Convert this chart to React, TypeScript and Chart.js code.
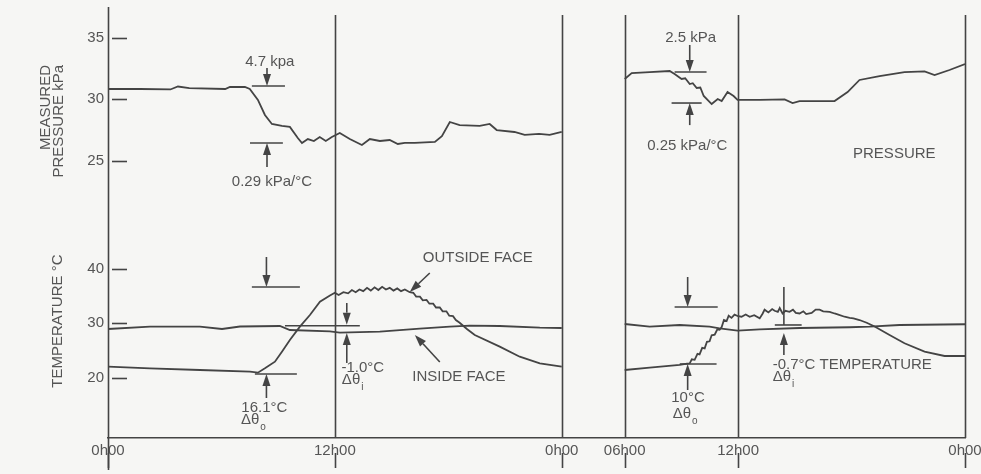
import React, { useEffect, useRef } from 'react';
import { Chart, registerables } from 'chart.js';

Chart.register(...registerables);

// ---- x layout: day 2 is shifted on the shared hour axis ----
const DAY2_OFFSET = 21.33;
const X_MAX = 24 + DAY2_OFFSET;

const xTickDays = [1, 1, 1, 2, 2, 2];
const xTickHours = [0, 12, 24, 6, 12, 24];
const xTickLabels = ['0h00', '12h00', '0h00', '06h00', '12h00', '0h00'];

const pressureTicks = [25, 30, 35];
const temperatureTicks = [20, 30, 40];

// ---- pressure (kPa) ----
const pressureDay1Hours = [0, 1.7, 3.3, 3.7, 4.3, 6.2, 6.45, 7.24, 7.5, 7.93, 8.3, 8.67, 9.2, 9.62, 10.04, 10.26, 10.57, 10.89, 11.2, 11.52, 11.84, 12.26, 12.79, 13.43, 13.85, 14.38, 14.9, 15.33, 15.7, 16.23, 17.29, 17.66, 18.08, 18.6, 19.66, 20.19, 20.56, 21.5, 22.04, 22.8, 23.36, 24];
const pressureDay1Kpa = [30.83, 30.83, 30.79, 31.03, 30.9, 30.83, 30.99, 30.99, 30.83, 29.94, 28.72, 27.99, 27.83, 27.75, 26.85, 26.45, 26.77, 26.61, 26.93, 26.61, 26.93, 27.26, 26.77, 26.29, 26.77, 26.61, 26.69, 26.37, 26.45, 26.45, 26.53, 27.0, 28.15, 27.9, 27.83, 27.99, 27.5, 27.34, 27.1, 27.18, 27.1, 27.34];

const pressureDay2Hours = [6, 6.37, 7.32, 8.38, 8.64, 9.01, 9.2, 9.44, 9.6, 9.81, 10.0, 10.18, 10.6, 10.92, 11.13, 11.44, 11.76, 11.97, 13.14, 14.46, 14.88, 15.25, 17.1, 17.79, 18.42, 19.48, 20.8, 21.86, 22.39, 23.18, 24];
const pressureDay2Kpa = [31.64, 32.12, 32.2, 32.29, 32.04, 31.64, 31.7, 31.23, 31.3, 30.91, 30.95, 30.26, 29.61, 30.02, 29.85, 30.58, 30.26, 29.94, 29.94, 29.98, 29.69, 29.85, 29.85, 30.58, 31.56, 31.88, 32.2, 32.25, 31.96, 32.37, 32.85];

// ---- outside face temperature (°C) ----
const outsideDay1Hours = [0, 2.22, 4.86, 7.51, 7.93, 8.3, 8.83, 9.2, 9.62, 10.15, 10.68, 11.21, 11.74, 12.0, 12.2, 12.45, 12.7, 12.9, 13.1, 13.3, 13.5, 13.7, 13.9, 14.1, 14.3, 14.5, 14.7, 14.9, 15.1, 15.3, 15.5, 15.7, 15.96, 16.15, 16.3, 16.5, 16.65, 16.85, 17.0, 17.2, 17.35, 17.55, 17.7, 17.9, 18.05, 18.25, 18.4, 18.6, 19.0, 19.4, 20.72, 21.78, 22.84, 24];
const outsideDay1Temp = [22.04, 21.74, 21.43, 21.12, 20.94, 21.74, 22.95, 24.79, 26.94, 29.38, 31.52, 33.96, 35.1, 35.6, 35.2, 35.7, 35.5, 36.1, 35.7, 36.2, 35.9, 36.5, 36.0, 36.6, 36.1, 36.7, 36.2, 36.5, 36.0, 36.4, 35.9, 36.2, 35.7, 35.6, 34.9, 34.9, 34.2, 34.3, 33.6, 33.6, 32.9, 32.9, 32.2, 32.2, 31.4, 31.3, 30.6, 30.1, 28.9, 27.85, 25.71, 23.87, 22.66, 22.04];

const outsideDay2Hours = [6, 7.32, 8.91, 9.3, 9.44, 9.55, 9.7, 9.85, 9.96, 10.1, 10.23, 10.35, 10.49, 10.6, 10.76, 10.9, 11.02, 11.13, 11.25, 11.39, 11.5, 11.65, 11.81, 12.0, 12.18, 12.4, 12.61, 12.85, 13.14, 13.3, 13.4, 13.6, 13.8, 13.93, 14.1, 14.2, 14.35, 14.5, 14.72, 14.9, 15.05, 15.25, 15.45, 15.6, 15.89, 16.1, 16.31, 16.5, 16.84, 17.1, 17.3, 17.63, 17.9, 18.1, 18.42, 18.8, 19.22, 20.01, 20.8, 21.86, 22.92, 24];
const outsideDay2Temp = [21.43, 21.85, 22.35, 22.6, 22.66, 23.4, 23.3, 24.4, 24.3, 25.5, 25.4, 26.6, 26.7, 27.8, 27.9, 28.9, 28.8, 29.3, 30.6, 30.4, 31.4, 31.0, 31.6, 31.3, 31.2, 31.6, 31.2, 31.5, 30.9, 31.8, 32.5, 32.0, 32.6, 32.3, 32.1, 32.8, 31.8, 32.3, 32.1, 32.5, 31.9, 31.8, 32.2, 31.7, 31.9, 32.5, 32.5, 32.2, 32.1, 31.8, 31.6, 31.2, 31.0, 30.9, 30.6, 30.1, 29.4, 27.85, 26.33, 24.79, 24.0, 24.0];

// ---- inside face temperature (°C) ----
const insideDay1Hours = [0, 2.22, 4.86, 6.03, 6.98, 9.09, 9.62, 11.74, 12.26, 14.38, 16.49, 18.08, 19.13, 20.72, 22.84, 24];
const insideDay1Temp = [28.95, 29.38, 29.38, 28.95, 29.41, 29.5, 28.77, 28.5, 28.28, 28.46, 29.01, 29.38, 29.56, 29.5, 29.19, 29.14];

const insideDay2Hours = [6, 7.32, 8.91, 10.49, 11.02, 11.97, 13.14, 15.25, 17.89, 18.95, 20.54, 24];
const insideDay2Temp = [29.87, 29.38, 29.69, 29.38, 29.08, 28.64, 28.9, 29.14, 29.27, 29.38, 29.69, 29.82];

// ---- annotations, in data units (day, hour, value) ----
const markerLines = [
  { day: 1, axis: 'p', from: 7.61, to: 9.36, value: 31.07 },
  { day: 1, axis: 'p', from: 7.51, to: 9.25, value: 26.45 },
  { day: 1, axis: 't', from: 7.61, to: 10.15, value: 36.66 },
  { day: 1, axis: 't', from: 7.77, to: 9.99, value: 20.7 },
  { day: 1, axis: 't', from: 9.36, to: 13.32, value: 29.56 },
  { day: 2, axis: 'p', from: 8.64, to: 10.33, value: 32.21 },
  { day: 2, axis: 'p', from: 8.48, to: 10.07, value: 29.69 },
  { day: 2, axis: 't', from: 8.64, to: 10.92, value: 32.99 },
  { day: 2, axis: 't', from: 8.91, to: 10.86, value: 22.53 },
  { day: 2, axis: 't', from: 13.94, to: 15.36, value: 29.69 },
];

const arrows = [
  { day: 1, axis: 'p', h1: 8.41, v1: 32.53, h2: 8.41, v2: 31.07 },
  { day: 1, axis: 'p', h1: 8.41, v1: 24.5, h2: 8.41, v2: 26.45 },
  { day: 1, axis: 't', h1: 8.38, v1: 42.17, h2: 8.38, v2: 36.66 },
  { day: 1, axis: 't', h1: 8.38, v1: 16.29, h2: 8.38, v2: 20.7 },
  { day: 1, axis: 't', h1: 12.63, v1: 33.72, h2: 12.63, v2: 29.75 },
  { day: 1, axis: 't', h1: 12.63, v1: 22.72, h2: 12.63, v2: 28.22 },
  { day: 1, axis: 't', h1: 17.02, v1: 39.23, h2: 15.96, v2: 35.74 },
  { day: 1, axis: 't', h1: 17.55, v1: 22.9, h2: 16.23, v2: 27.85 },
  { day: 2, axis: 'p', h1: 9.44, v1: 34.4, h2: 9.44, v2: 32.21 },
  { day: 2, axis: 'p', h1: 9.44, v1: 27.9, h2: 9.44, v2: 29.69 },
  { day: 2, axis: 't', h1: 9.33, v1: 38.5, h2: 9.33, v2: 32.99 },
  { day: 2, axis: 't', h1: 9.33, v1: 17.76, h2: 9.33, v2: 22.53 },
  { day: 2, axis: 't', h1: 14.42, v1: 24.18, h2: 14.42, v2: 28.22 },
];

const plainSegments = [
  { day: 2, axis: 't', h: 14.42, v1: 36.66, v2: 29.69 },
];

const textLabels = [
  { day: 1, axis: 'p', h: 8.56, v: 33.02, text: '4.7 kpa', align: 'center' },
  { day: 1, axis: 'p', h: 8.67, v: 23.28, text: '0.29 kPa/°C', align: 'center' },
  { day: 1, axis: 't', h: 8.27, v: 14.46, text: '16.1°C', align: 'center' },
  { day: 1, axis: 't', h: 13.48, v: 21.8, text: '-1.0°C', align: 'center' },
  { day: 1, axis: 't', h: 19.56, v: 42.0, text: 'OUTSIDE FACE', align: 'center' },
  { day: 1, axis: 't', h: 18.56, v: 20.15, text: 'INSIDE FACE', align: 'center' },
  { day: 2, axis: 'p', h: 9.49, v: 34.96, text: '2.5 kPa', align: 'center' },
  { day: 2, axis: 'p', h: 9.31, v: 26.2, text: '0.25 kPa/°C', align: 'center' },
  { day: 2, axis: 'p', h: 20.26, v: 25.56, text: 'PRESSURE', align: 'center' },
  { day: 2, axis: 't', h: 9.35, v: 16.29, text: '10°C', align: 'center' },
  { day: 2, axis: 't', h: 13.83, v: 22.35, text: '-0.7°C TEMPERATURE', align: 'left' },
];

const deltaLabels = [
  { day: 1, axis: 't', h: 7.03, v: 12.26, sub: 'o' },
  { day: 1, axis: 't', h: 12.37, v: 19.6, sub: 'i' },
  { day: 2, axis: 't', h: 8.54, v: 13.37, sub: 'o' },
  { day: 2, axis: 't', h: 13.83, v: 20.15, sub: 'i' },
];

const INK = '#444444';
const TEXT = '#555555';
const FONT = '"Liberation Sans", Arial, Helvetica, sans-serif';

const plotX = (day: number, hour: number) => hour + (day === 2 ? DAY2_OFFSET : 0);

const toPoints = (day: number, hours: number[], values: number[]) =>
  hours.map((h, i) => ({ x: plotX(day, h), y: values[i] }));

function drawArrow(ctx: CanvasRenderingContext2D, x1: number, y1: number, x2: number, y2: number) {
  const ang = Math.atan2(y2 - y1, x2 - x1);
  const len = 12;
  const hw = 4;
  const bx = x2 - len * Math.cos(ang);
  const by = y2 - len * Math.sin(ang);
  ctx.beginPath();
  ctx.moveTo(x1, y1);
  ctx.lineTo(bx, by);
  ctx.stroke();
  ctx.beginPath();
  ctx.moveTo(x2, y2);
  ctx.lineTo(bx + hw * Math.sin(ang), by - hw * Math.cos(ang));
  ctx.lineTo(bx - hw * Math.sin(ang), by + hw * Math.cos(ang));
  ctx.closePath();
  ctx.fill();
}

const overlayPlugin = {
  id: 'overlay',
  beforeDraw(chart: any) {
    const ctx = chart.ctx;
    ctx.save();
    ctx.fillStyle = '#f6f6f4';
    ctx.fillRect(0, 0, chart.width, chart.height);
    ctx.restore();
  },
  afterDraw(chart: any) {
    const ctx: CanvasRenderingContext2D = chart.ctx;
    const { x, yP, yT } = chart.scales;
    const area = chart.chartArea;
    const px = (day: number, h: number) => x.getPixelForValue(plotX(day, h));
    const py = (axis: string, v: number) => (axis === 'p' ? yP : yT).getPixelForValue(v);

    ctx.save();
    ctx.strokeStyle = INK;
    ctx.fillStyle = INK;
    ctx.lineWidth = 1.6;

    // vertical day / noon lines and stubs under labels
    xTickHours.forEach((h, i) => {
      const xx = Math.round(x.getPixelForValue(plotX(xTickDays[i], h))) + 0.5;
      if (i > 0) {
        ctx.beginPath();
        ctx.moveTo(xx, area.top + 8);
        ctx.lineTo(xx, area.bottom);
        ctx.stroke();
      }
      ctx.beginPath();
      ctx.moveTo(xx, area.bottom + 15);
      ctx.lineTo(xx, area.bottom + 30);
      ctx.stroke();
    });
    // continuous left value axis, running below the time axis
    const lx = Math.round(area.left) + 0.5;
    ctx.beginPath();
    ctx.moveTo(lx, area.top);
    ctx.lineTo(lx, area.bottom + 32);
    ctx.stroke();

    // inner tick marks on the value axes
    const innerTicks = (scale: any, values: number[]) => {
      values.forEach((v) => {
        const yy = Math.round(scale.getPixelForValue(v)) + 0.5;
        ctx.beginPath();
        ctx.moveTo(area.left + 4, yy);
        ctx.lineTo(area.left + 19, yy);
        ctx.stroke();
      });
    };
    innerTicks(yP, pressureTicks);
    innerTicks(yT, temperatureTicks);

    // marker lines
    markerLines.forEach((m) => {
      const yy = py(m.axis, m.value);
      ctx.beginPath();
      ctx.moveTo(px(m.day, m.from), yy);
      ctx.lineTo(px(m.day, m.to), yy);
      ctx.stroke();
    });
    plainSegments.forEach((s) => {
      const xx = px(s.day, s.h);
      ctx.beginPath();
      ctx.moveTo(xx, py(s.axis, s.v1));
      ctx.lineTo(xx, py(s.axis, s.v2));
      ctx.stroke();
    });
    arrows.forEach((a) => {
      drawArrow(ctx, px(a.day, a.h1), py(a.axis, a.v1), px(a.day, a.h2), py(a.axis, a.v2));
    });

    // texts
    ctx.fillStyle = TEXT;
    ctx.textBaseline = 'middle';
    ctx.font = `15px ${FONT}`;
    textLabels.forEach((t) => {
      ctx.textAlign = t.align as CanvasTextAlign;
      ctx.fillText(t.text, px(t.day, t.h), py(t.axis, t.v));
    });
    deltaLabels.forEach((d) => {
      const xx = px(d.day, d.h);
      const yy = py(d.axis, d.v);
      ctx.textAlign = 'left';
      ctx.font = `15px ${FONT}`;
      ctx.fillText('Δθ', xx, yy);
      const w = ctx.measureText('Δθ').width;
      ctx.font = `10px ${FONT}`;
      ctx.fillText(d.sub, xx + w + 1, yy + 7);
    });

    // rotated axis titles
    ctx.font = `15px ${FONT}`;
    ctx.save();
    ctx.translate(area.left - 62, yP.top + 58);
    ctx.rotate(-Math.PI / 2);
    ctx.textAlign = 'right';
    ctx.fillText('MEASURED', 0, 0);
    ctx.restore();
    ctx.save();
    ctx.translate(area.left - 49, yP.top + 58);
    ctx.rotate(-Math.PI / 2);
    ctx.textAlign = 'right';
    ctx.fillText('PRESSURE kPa', 0, 0);
    ctx.restore();
    ctx.save();
    ctx.translate(area.left - 50, yT.getPixelForValue(30.4));
    ctx.rotate(-Math.PI / 2);
    ctx.textAlign = 'center';
    ctx.fillText('TEMPERATURE °C', 0, 0);
    ctx.restore();

    ctx.restore();
  },
};

export default function App() {
  const canvasRef = useRef<HTMLCanvasElement | null>(null);

  useEffect(() => {
    document.body.style.margin = '0';
    const canvas = canvasRef.current;
    if (!canvas) return;

    const lineStyle = {
      borderColor: INK,
      borderWidth: 1.8,
      pointRadius: 0,
      tension: 0,
      fill: false,
    };

    const chart = new Chart(canvas, {
      type: 'line',
      data: {
        datasets: [
          { ...lineStyle, label: 'Pressure day 1', yAxisID: 'yP', data: toPoints(1, pressureDay1Hours, pressureDay1Kpa) },
          { ...lineStyle, label: 'Pressure day 2', yAxisID: 'yP', data: toPoints(2, pressureDay2Hours, pressureDay2Kpa) },
          { ...lineStyle, label: 'Outside face day 1', yAxisID: 'yT', data: toPoints(1, outsideDay1Hours, outsideDay1Temp) },
          { ...lineStyle, label: 'Outside face day 2', yAxisID: 'yT', data: toPoints(2, outsideDay2Hours, outsideDay2Temp) },
          { ...lineStyle, label: 'Inside face day 1', yAxisID: 'yT', data: toPoints(1, insideDay1Hours, insideDay1Temp) },
          { ...lineStyle, label: 'Inside face day 2', yAxisID: 'yT', data: toPoints(2, insideDay2Hours, insideDay2Temp) },
        ],
      },
      options: {
        animation: false,
        responsive: false,
        layout: { padding: { left: 0, right: 16, top: 7, bottom: 0 } },
        plugins: { legend: { display: false }, tooltip: { enabled: false } },
        scales: {
          x: {
            type: 'linear',
            min: 0,
            max: X_MAX,
            grid: { display: true, drawOnChartArea: false, drawTicks: false },
            border: { display: true, color: INK, width: 1.6 },
            afterBuildTicks: (scale: any) => {
              scale.ticks = xTickHours.map((h, i) => ({ value: plotX(xTickDays[i], h) }));
            },
            afterFit: (scale: any) => {
              scale.height = 36;
              scale.paddingLeft = 0;
              scale.paddingRight = 0;
            },
            ticks: {
              autoSkip: false,
              maxRotation: 0,
              padding: 4,
              color: TEXT,
              font: { family: FONT, size: 15 },
              callback: (_v: any, i: number) => xTickLabels[i],
            },
          },
          yP: {
            type: 'linear',
            position: 'left',
            stack: 'values',
            stackWeight: 223,
            weight: 2,
            min: 19.39,
            max: 37.48,
            grid: { display: false, drawOnChartArea: false, drawTicks: false },
            border: { display: false },
            afterBuildTicks: (scale: any) => {
              scale.ticks = pressureTicks.map((v) => ({ value: v }));
            },
            afterFit: (scale: any) => {
              scale.width = 108;
              scale.paddingTop = 0;
              scale.paddingBottom = 0;
            },
            ticks: { padding: 4, color: TEXT, font: { family: FONT, size: 15 } },
          },
          yT: {
            type: 'linear',
            position: 'left',
            stack: 'values',
            stackWeight: 208,
            weight: 1,
            min: 8.95,
            max: 47.12,
            grid: { display: false, drawOnChartArea: false, drawTicks: false },
            border: { display: false },
            afterBuildTicks: (scale: any) => {
              scale.ticks = temperatureTicks.map((v) => ({ value: v }));
            },
            afterFit: (scale: any) => {
              scale.width = 108;
              scale.paddingTop = 0;
              scale.paddingBottom = 0;
            },
            ticks: { padding: 4, color: TEXT, font: { family: FONT, size: 15 } },
          },
        },
      },
      plugins: [overlayPlugin],
    } as any);

    return () => chart.destroy();
  }, []);

  return (
    <div style={{ width: 981, height: 474 }}>
      <canvas ref={canvasRef} width={981} height={474} style={{ display: 'block' }} />
    </div>
  );
}
